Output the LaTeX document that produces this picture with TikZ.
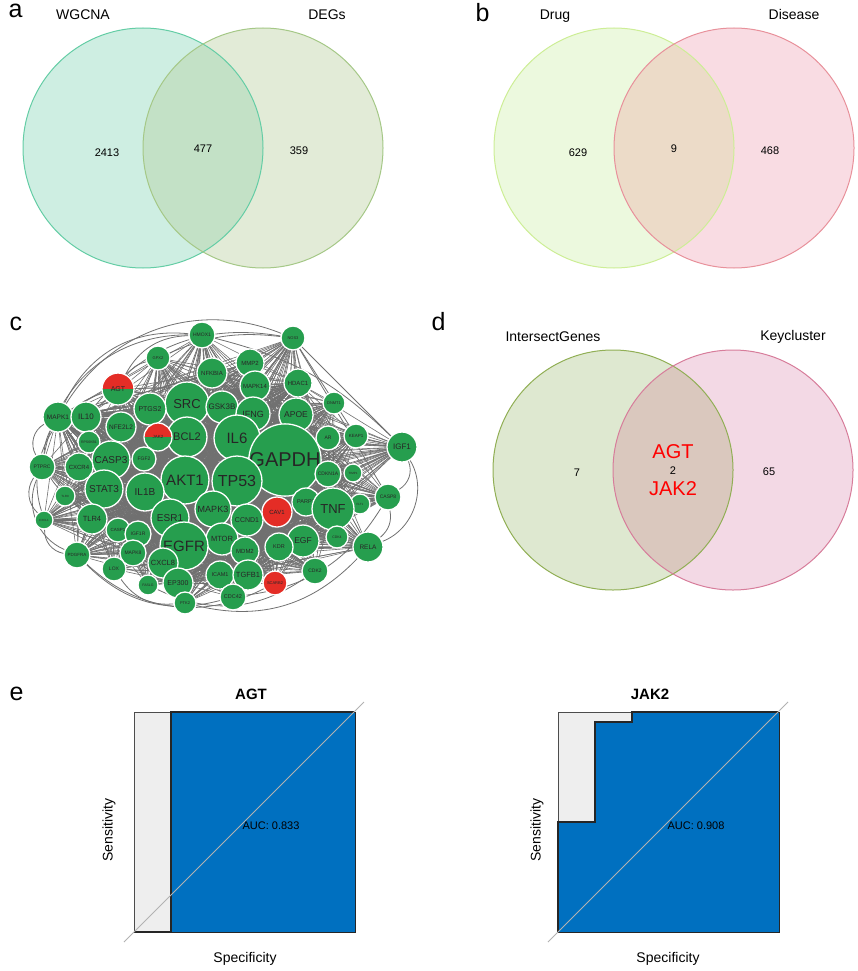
\documentclass[tikz,border=0pt]{standalone}
\usepackage{fontspec}
\setmainfont{Liberation Sans}
\usepackage{tikz}

\definecolor{netgreen}{RGB}{38,158,78}
\definecolor{netred}{RGB}{228,45,38}
\definecolor{edgegrey}{RGB}{112,112,112}
\definecolor{rocblue}{RGB}{0,112,192}
\definecolor{rocgrey}{RGB}{238,238,238}
\definecolor{wgcnafill}{RGB}{206,238,226}
\definecolor{wgcnaline}{RGB}{100,205,165}
\definecolor{degsfill}{RGB}{226,235,215}
\definecolor{degsline}{RGB}{165,200,135}
\definecolor{abfill}{RGB}{195,225,198}
\definecolor{drugfill}{RGB}{236,249,222}
\definecolor{drugline}{RGB}{205,238,150}
\definecolor{disfill}{RGB}{249,220,227}
\definecolor{disline}{RGB}{232,145,155}
\definecolor{ddfill}{RGB}{236,219,200}
\definecolor{intfill}{RGB}{222,232,208}
\definecolor{intline}{RGB}{145,175,85}
\definecolor{keyfill}{RGB}{243,217,229}
\definecolor{keyline}{RGB}{215,125,155}
\definecolor{ikfill}{RGB}{218,200,190}

\pgfdeclarelayer{edges}
\pgfsetlayers{edges,main}

\def\allgenes{HMOX1,GPX2,NOS3,NFKBIA,MMP2,MAPK14,HDAC1,AGT,SRC,GSK3B,IFNG,APOE,DNMT1,PTGS2,MAPK1,IL10,NFE2L2,JAK2,BCL2,IL6,AR,KEAP1,IGF1,RPS6KB1,GAPDH,CASP3,FGF2,PTPRC,CXCR4,AKT1,TP53,CDKN1A,TIMP1,STAT3,IL1B,TLR9,CASP8,PARP1,FLT1,MAPK3,CAV1,TNF,ESR1,TLR4,CXCL1,CCND1,CASP1,IGF1R,MTOR,EGF,CDK4,EGFR,KDR,RELA,MDM2,MAPK8,PDGFRA,CXCL8,LOX,CDK2,ICAM1,TGFB1,EP300,SCARB2,FASLG,CDC42,PTK2}

\begin{document}
\begin{tikzpicture}[x = 1pt, y = -1pt,
    gene/.style 2 args = {circle, fill = netgreen, draw = white, line width = 1.3pt,
                          minimum size = 2*#1 pt, inner sep = 0pt, text = black!85,
                          font = \fontsize{#2}{#2}\selectfont},
    halfred/.style = {path picture = {\fill [netred] (path picture bounding box.north west)
                          rectangle (path picture bounding box.east);}},
    allred/.style = {fill = netred},
    edge/.style = {draw = edgegrey, line width = 0.6pt},
    outer/.style = {draw = edgegrey, line width = 0.8pt},
    panel/.style = {font = \fontsize{25}{28}\selectfont, anchor = base west},
    setlabel/.style = {font = \fontsize{14}{16}\selectfont, anchor = base},
    count/.style = {font = \fontsize{11}{13}\selectfont, anchor = base},
    roccurve/.style = {draw = black!85, line width = 1.2pt},
    axistext/.style = {font = \fontsize{14}{16}\selectfont}]
  \useasboundingbox (0, 0) rectangle (858, 971);

  % a
  \node [panel] (pa) at (5, 18) {a};
  \fill [wgcnafill] (143, 148) circle (120);
  \fill [degsfill] (263, 148) circle (120);
  \begin{scope}
    \clip (143, 148) circle (120);
    \fill [abfill] (263, 148) circle (120);
  \end{scope}
  \draw [wgcnaline, line width = 1pt] (143, 148) circle (120);
  \draw [degsline, line width = 1pt] (263, 148) circle (120);
  \node [setlabel] (wgcna) at (83, 20) {WGCNA};
  \node [setlabel] (degs) at (327, 20) {DEGs};
  \node [count] (na1) at (107, 156) {2413};
  \node [count] (na2) at (203, 153) {477};
  \node [count] (na3) at (299, 154) {359};

  % b
  \node [panel] (pb) at (472, 22) {b};
  \fill [drugfill] (614, 148) circle (120);
  \fill [disfill] (734, 148) circle (120);
  \begin{scope}
    \clip (614, 148) circle (120);
    \fill [ddfill] (734, 148) circle (120);
  \end{scope}
  \draw [drugline, line width = 1pt] (614, 148) circle (120);
  \draw [disline, line width = 1pt] (734, 148) circle (120);
  \node [setlabel] (drug) at (555, 20) {Drug};
  \node [setlabel] (disease) at (794, 20) {Disease};
  \node [count] (nb1) at (578, 156) {629};
  \node [count] (nb2) at (674, 153) {9};
  \node [count] (nb3) at (770, 154) {468};

  % c
  \node [panel] (pc) at (6, 330) {c};
  \foreach \n/\x/\y/\r/\f in {HMOX1/202/335/13/5, GPX2/158/358/12/4, NOS3/293/338/12/4,
      NFKBIA/212/373/15/6, MMP2/250/363/14/6, MAPK14/255/386/15/6, HDAC1/298/383/14/6,
      SRC/187/404/22/13, GSK3B/222/407/16/8, IFNG/253/414/17/9, APOE/296/415/17/8.5,
      DNMT1/334/403/11/4, PTGS2/150/409/16/7, MAPK1/58/417/15/6.5, IL10/86/417/15/8,
      NFE2L2/121/427/15/6.5, BCL2/187/437/20/11, IL6/237/438/23/15, AR/328/438/12/5,
      KEAP1/356/436/12/4.5, IGF1/402/447/15/8, RPS6KB1/89/442/11/3.5, GAPDH/285/460/33/20,
      CASP3/111/460/19/10, FGF2/144/459/12/5, PTPRC/42/467/13/5, CXCR4/79/467/14/6,
      AKT1/185/480/24/15, TP53/237/481/25/16, CDKN1A/328/474/13/5, TIMP1/353/473/9/3,
      STAT3/104/489/19/10, IL1B/145/492/19/10, TLR9/65/496/10/3, CASP8/388/497/13/5,
      PARP1/306/502/14/5.5, FLT1/360/504/10/3, MAPK3/213/509/18/9, TNF/333/509/21/13,
      ESR1/170/518/19/10, TLR4/92/519/15/7.5, CXCL1/44/520/9/3, CCND1/247/520/16/7,
      CASP1/118/530/12/4.5, IGF1R/138/534/13/5, MTOR/222/539/16/7.5, EGF/303/541/16/8.5,
      CDK4/337/537/11/3.5, EGFR/184/546/24/15, KDR/279/547/14/5.5, RELA/368/547/15/6.5,
      MDM2/245/551/14/6, MAPK8/133/553/13/5, PDGFRA/77/555/13/4.5, CXCL8/163/563/15/7.5,
      LOX/114/569/12/5, CDK2/315/571/13/5, ICAM1/220/575/14/5.5, TGFB1/248/575/15/7.5,
      EP300/178/583/15/7, FASLG/148/585/10/3.5, CDC42/233/597/13/5.5, PTK2/185/603/11/4}
    \node [gene = {\r}{\f}] (\n) at (\x, \y) {\n};
  \node [gene = {16}{7}, halfred] (AGT) at (118, 389) {AGT};
  \node [gene = {14}{4.5}, halfred] (JAK2) at (158, 437) {JAK2};
  \node [gene = {15}{6}, allred] (CAV1) at (277, 512) {CAV1};
  \node [gene = {12}{4}, allred] (SCARB2) at (275, 583) {SCARB2};

  \begin{pgfonlayer}{edges}
    \foreach \a in {GAPDH, TP53, AKT1, IL6, EGFR, SRC, ESR1, TNF, IL1B, STAT3, CASP3,
                    MAPK3, BCL2, EGF, MTOR, CCND1, PTGS2, GSK3B, IFNG, APOE, CXCL8,
                    TLR4, MAPK1, PARP1, MDM2, TGFB1, EP300, CXCR4, NFE2L2, IL10, KDR,
                    CDKN1A, HDAC1, MAPK14, NFKBIA, IGF1R, MAPK8, ICAM1}
      \foreach \b in \allgenes
        \draw [edge] (\a.center) -- (\b.center);
    \draw [outer] (MAPK1) to [bend left = 35] (HMOX1);
    \draw [outer] (MAPK1) to [bend left = 40] (NOS3);
    \draw [outer] (AGT) to [bend left = 30] (HMOX1);
    \draw [outer] (AGT) to [bend left = 20] (GPX2);
    \draw [outer] (IL10) to [bend left = 30] (NOS3);
    \draw [outer] (GPX2) to [bend left = 15] (NOS3);
    \draw [outer] (PTPRC) to [bend left = 45] (MAPK1);
    \draw [outer] (PTPRC) to [bend left = 40] (HMOX1);
    \draw [outer] (CXCL1) to [bend left = 40] (PTPRC);
    \draw [outer] (CXCL1) to [bend left = 45] (AGT);
    \draw [outer] (TLR9) to [bend left = 35] (MAPK1);
    \draw [outer] (CXCL1) to [bend right = 40] (PDGFRA);
    \draw [outer] (PTPRC) to [bend right = 45] (PDGFRA);
    \draw [outer] (PDGFRA) to [bend right = 30] (CDC42);
    \draw [outer] (PDGFRA) to [bend right = 35] (SCARB2);
    \draw [outer] (LOX) to [bend right = 30] (PTK2);
    \draw [outer] (FASLG) to [bend right = 30] (CDK2);
    \draw [outer] (PTK2) to [bend right = 30] (RELA);
    \draw [outer] (CDC42) to [bend right = 25] (CASP8);
    \draw [outer] (NOS3) -- (IGF1);
    \draw [outer] (NOS3) -- (CASP8);
    \draw [outer] (NOS3) -- (KEAP1);
    \draw [outer] (HMOX1) to [bend left = 15] (IGF1);
    \draw [outer] (IGF1) to [bend left = 40] (CASP8);
    \draw [outer] (IGF1) to [bend left = 50] (RELA);
    \draw [outer] (CASP8) to [bend left = 30] (RELA);
  \end{pgfonlayer}

  % d
  \node [panel] (pd) at (428, 330) {d};
  \fill [intfill] (613, 470) circle (120);
  \fill [keyfill] (733, 470) circle (120);
  \begin{scope}
    \clip (613, 470) circle (120);
    \fill [ikfill] (733, 470) circle (120);
  \end{scope}
  \draw [intline, line width = 1pt] (613, 470) circle (120);
  \draw [keyline, line width = 1pt] (733, 470) circle (120);
  \node [setlabel] (intersect) at (553, 341) {IntersectGenes};
  \node [setlabel] (keycluster) at (793, 340) {Keycluster};
  \node [count] (nd1) at (577, 476) {7};
  \node [count] (nd2) at (673, 474) {2};
  \node [count] (nd3) at (769, 475) {65};
  \node [anchor = base, text = red, font = \fontsize{20}{22}\selectfont] (agtkey) at (673, 458) {AGT};
  \node [anchor = base, text = red, font = \fontsize{20}{22}\selectfont] (jak2key) at (673, 495) {JAK2};

  % e
  \node [panel] (pe) at (6, 700) {e};
  \fill [rocgrey] (134, 712) rectangle (355, 932);
  \fill [rocblue] (171, 712) rectangle (355, 932);
  \draw [black!70, line width = 0.7pt] (134, 712) rectangle (355, 932);
  \draw [roccurve] (134, 932) -- (171, 932) -- (171, 712) -- (355, 712);
  \draw [black!85, line width = 0.7pt] (171, 932) -- (355, 932) -- (355, 712);
  \draw [black!30, line width = 0.8pt] (124, 942) -- (364, 702);
  \node [anchor = base, font = \bfseries\fontsize{15}{17}\selectfont] (agttitle) at (251, 699) {AGT};
  \node [count] (aucagt) at (271, 829) {AUC: 0.833};
  \node [axistext, rotate = 90] (sensagt) at (109, 830) {Sensitivity};
  \node [axistext, anchor = base] (specagt) at (245, 962) {Specificity};

  \fill [rocgrey] (558, 712) rectangle (779, 932);
  \fill [rocblue] (558, 932) -- (558, 822) -- (595, 822) -- (595, 722) -- (632, 722)
    -- (632, 712) -- (779, 712) -- (779, 932) -- cycle;
  \draw [black!70, line width = 0.7pt] (558, 712) rectangle (779, 932);
  \draw [roccurve] (558, 932) -- (558, 822) -- (595, 822) -- (595, 722) -- (632, 722)
    -- (632, 712) -- (779, 712);
  \draw [black!85, line width = 0.7pt] (558, 932) -- (779, 932) -- (779, 712);
  \draw [black!30, line width = 0.8pt] (548, 942) -- (788, 702);
  \node [anchor = base, font = \bfseries\fontsize{15}{17}\selectfont] (jak2title) at (650, 699) {JAK2};
  \node [count] (aucjak2) at (696, 829) {AUC: 0.908};
  \node [axistext, rotate = 90] (sensjak2) at (537, 830) {Sensitivity};
  \node [axistext, anchor = base] (specjak2) at (668, 962) {Specificity};
\end{tikzpicture}
\end{document}
